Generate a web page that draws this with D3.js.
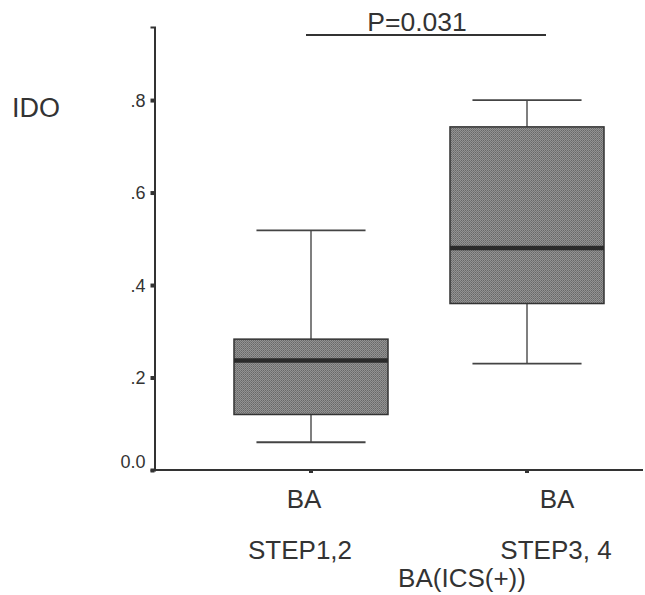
<!DOCTYPE html>
<html>
<head>
<meta charset="utf-8">
<script src="https://cdn.jsdelivr.net/npm/d3@7"></script>
<style>
  body { margin: 0; background: #fff; }
  text { font-family: Arial, "Liberation Sans", sans-serif; fill: #333; }
  .tick-label { font-family: "Liberation Sans Narrow", "Arial Narrow", Arial, "Liberation Sans", sans-serif; }
</style>
</head>
<body>
<svg id="chart" width="645" height="595"></svg>
<script>
// box plot values
const groups = ["g1", "g2"];
const groupTop = ["BA", "BA"];
const groupBottom = ["STEP1,2", "STEP3, 4"];
const lowWhisker = [0.06, 0.23];
const q1 = [0.12, 0.36];
const median = [0.237, 0.48];
const q3 = [0.283, 0.742];
const highWhisker = [0.518, 0.80];
const yTicks = [0, 0.2, 0.4, 0.6, 0.8];
const yTickLabels = ["0.0", ".2", ".4", ".6", ".8"];
const pText = "P=0.031";

const svg = d3.select("#chart");

const x = d3.scaleBand().domain(groups).range([203, 635]).padding(0);
const y = d3.scaleLinear().domain([0, 0.958]).range([470, 27]);

// stipple fill like the scan
const defs = svg.append("defs");
const pat = defs.append("pattern")
    .attr("id", "stipple")
    .attr("width", 2).attr("height", 2)
    .attr("patternUnits", "userSpaceOnUse");
pat.append("rect").attr("width", 2).attr("height", 2).attr("fill", "#939393");
pat.append("rect").attr("width", 1).attr("height", 1).attr("fill", "#686868");
pat.append("rect").attr("x", 1).attr("y", 1).attr("width", 1).attr("height", 1).attr("fill", "#767676");

// y axis
const yAxis = svg.append("g")
    .attr("transform", "translate(154.5,0)")
    .call(d3.axisLeft(y).tickValues(yTicks).tickSize(4).tickFormat((d, i) => yTickLabels[i]));
yAxis.select(".domain").attr("stroke", "#333").attr("stroke-width", 2);
yAxis.selectAll(".tick line").attr("stroke", "#333").attr("stroke-width", 4);
yAxis.selectAll(".tick text")
    .attr("class", "tick-label")
    .attr("font-size", 18)
    .attr("fill", "#333")
    .attr("x", -9)
    .attr("dy", (d, i) => i === 0 ? "-0.15em" : "0.34em");

// x axis line
svg.append("line")
    .attr("x1", 154.5).attr("x2", 643)
    .attr("y1", y(0)).attr("y2", y(0))
    .attr("stroke", "#333").attr("stroke-width", 2);

svg.selectAll(".xtick").data(groups)
    .join("line")
    .attr("class", "xtick")
    .attr("x1", d => x(d) + x.bandwidth() / 2).attr("x2", d => x(d) + x.bandwidth() / 2)
    .attr("y1", y(0)).attr("y2", y(0) + 3)
    .attr("stroke", "#333").attr("stroke-width", 4);

// boxes
const boxW = x.bandwidth() * 0.713;
const capW = x.bandwidth() * 0.505;
const box = svg.selectAll(".box").data(groups)
    .join("g")
    .attr("class", "box")
    .attr("transform", d => `translate(${x(d) + x.bandwidth() / 2},0)`);

box.append("line")
    .attr("x1", 0).attr("x2", 0)
    .attr("y1", (d, i) => y(highWhisker[i])).attr("y2", (d, i) => y(q3[i]))
    .attr("stroke", "#555").attr("stroke-width", 1.5);
box.append("line")
    .attr("x1", 0).attr("x2", 0)
    .attr("y1", (d, i) => y(q1[i])).attr("y2", (d, i) => y(lowWhisker[i]))
    .attr("stroke", "#555").attr("stroke-width", 1.5);
box.append("line")
    .attr("x1", -capW / 2).attr("x2", capW / 2)
    .attr("y1", (d, i) => y(highWhisker[i])).attr("y2", (d, i) => y(highWhisker[i]))
    .attr("stroke", "#444").attr("stroke-width", 1.8);
box.append("line")
    .attr("x1", -capW / 2).attr("x2", capW / 2)
    .attr("y1", (d, i) => y(lowWhisker[i])).attr("y2", (d, i) => y(lowWhisker[i]))
    .attr("stroke", "#444").attr("stroke-width", 1.8);

box.append("rect")
    .attr("x", -boxW / 2)
    .attr("width", boxW)
    .attr("y", (d, i) => y(q3[i]))
    .attr("height", (d, i) => y(q1[i]) - y(q3[i]))
    .attr("fill", "url(#stipple)")
    .attr("stroke", "#333").attr("stroke-width", 1.5);

box.append("line")
    .attr("x1", -boxW / 2).attr("x2", boxW / 2)
    .attr("y1", (d, i) => y(median[i])).attr("y2", (d, i) => y(median[i]))
    .attr("stroke", "#2a2a2a").attr("stroke-width", 4.5);

// category labels
svg.selectAll(".lab1").data(groups)
    .join("text")
    .attr("class", "lab1")
    .attr("x", (d, i) => i === 0 ? 304 : 557)
    .attr("y", 508)
    .attr("text-anchor", "middle")
    .attr("font-size", 26)
    .text((d, i) => groupTop[i]);

svg.selectAll(".lab2").data(groups)
    .join("text")
    .attr("class", "lab2")
    .attr("x", (d, i) => i === 0 ? 300 : 556)
    .attr("y", 559)
    .attr("text-anchor", "middle")
    .attr("font-size", 26)
    .text((d, i) => groupBottom[i]);

svg.append("text")
    .attr("x", 462).attr("y", 587)
    .attr("text-anchor", "middle")
    .attr("font-size", 26)
    .text("BA(ICS(+))");

// y title
svg.append("text")
    .attr("x", 12).attr("y", 117)
    .attr("font-size", 27)
    .text("IDO");

// significance bar
svg.append("line")
    .attr("x1", 306).attr("x2", 546)
    .attr("y1", 35).attr("y2", 35)
    .attr("stroke", "#333").attr("stroke-width", 1.8);
svg.append("text")
    .attr("x", 417).attr("y", 31)
    .attr("text-anchor", "middle")
    .attr("font-size", 26.5)
    .text(pText);
</script>
</body>
</html>
